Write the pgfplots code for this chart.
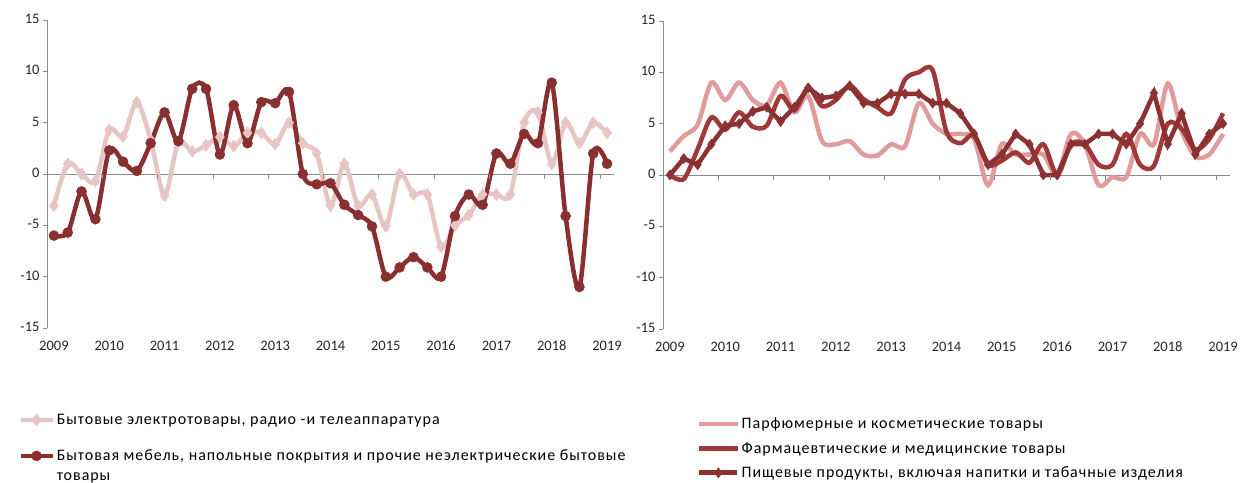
\documentclass[border=0pt]{standalone}
\usepackage{fontspec}
\setmainfont{Carlito}
\newfontfamily\legfont{Carlito}[LetterSpace=6]
\usepackage{pgfplots}
\pgfplotsset{compat=1.18}
\usepackage{pgfplotstable}
\definecolor{lpink}{HTML}{E8C5C5}
\definecolor{dred}{HTML}{8A2F2F}
\definecolor{ppink}{HTML}{E09C9C}
\definecolor{pharm}{HTML}{A03838}
\definecolor{food}{HTML}{8B3131}
\definecolor{axgray}{HTML}{8C8C8C}

\pgfplotstableread{
i a b
0 -3.1 -6.0
1 1.0 -5.7
2 0.0 -1.7
3 -0.7 -4.4
4 4.3 2.3
5 3.65 1.2
6 7.0 0.3
7 3.3 3.0
8 -2.1 6.0
9 3.1 3.2
10 2.2 8.3
11 2.8 8.3
12 3.6 1.9
13 2.7 6.7
14 4.0 3.0
15 4.0 7.0
16 2.9 6.9
17 5.0 8.0
18 3.0 0.0
19 2.0 -1.0
20 -3.1 -0.9
21 1.0 -3.0
22 -3.1 -4.0
23 -2.0 -5.1
24 -5.1 -10.0
25 0.0 -9.1
26 -2.0 -8.1
27 -2.0 -9.1
28 -7.1 -10.0
29 -5.0 -4.1
30 -4.0 -2.0
31 -2.0 -3.0
32 -2.0 2.0
33 -2.0 1.0
34 5.0 3.9
35 6.0 3.0
36 1.0 8.9
37 5.0 -4.1
38 3.0 -11.0
39 5.0 2.0
40 4.0 1.0
}\tabL

\pgfplotstableread{
i perf pharm food
0 2.3 0.0 0.0
1 3.8 -0.4 1.6
2 4.9 2.5 1.0
3 9.0 5.6 3.0
4 7.3 4.4 4.8
5 9.0 6.1 5.0
6 7.3 4.7 6.2
7 6.8 4.8 6.6
8 9.0 7.7 5.2
9 6.1 6.3 6.6
10 7.7 8.5 8.5
11 3.3 6.7 7.5
12 3.0 7.3 7.7
13 3.3 8.7 8.7
14 2.0 7.4 7.0
15 1.9 6.6 7.0
16 3.0 6.0 7.9
17 2.8 9.3 7.9
18 7.0 10.0 7.9
19 5.0 10.2 7.0
20 4.0 4.2 7.0
21 4.0 3.1 6.0
22 3.5 3.9 4.0
23 -1.0 1.0 1.0
24 3.0 1.4 2.0
25 2.0 2.2 4.0
26 2.0 1.2 3.0
27 2.0 3.0 0.0
28 0.0 0.0 0.0
29 4.0 3.0 3.0
30 3.0 3.0 3.0
31 -1.0 1.0 4.0
32 -0.2 1.0 4.0
33 -0.2 4.0 3.0
34 4.0 1.0 5.0
35 3.0 0.9 8.0
36 8.9 5.0 3.0
37 4.3 4.5 6.0
38 1.8 2.5 2.0
39 2.0 3.5 4.0
40 4.0 6.0 5.0
}\tabR

\pgfplotsset{
  panel/.style={
    scale only axis, width=567bp, height=308bp,
    xmin=-0.5, xmax=40.5, ymin=-15, ymax=15,
    axis y line*=left, axis x line*=bottom,
    x axis line style={draw=none},
    y axis line style={axgray, line width=0.9bp, -},
    xtick={0,4,...,40},
    xticklabels={2009,2010,2011,2012,2013,2014,2015,2016,2017,2018,2019},
    x tick style={draw=none},
    typeset ticklabels with strut,
    xticklabel style={yshift=-3.5bp},
    ytick={-15,-10,...,15},
    y tick style={axgray, line width=0.9bp},
    tick align=outside, major tick length=4bp,
    extra y ticks={0}, extra y tick labels={},
    extra y tick style={grid=major, major grid style={axgray, line width=0.9bp}, major tick length=0bp},
    tick label style={font=\fontsize{14.5bp}{17bp}\selectfont, text=black!85},
    /pgf/number format/assume math mode=true,
    clip=false,
    legend cell align=left,
    legend style={draw=none, fill=none, font=\legfont\fontsize{16bp}{20bp}\selectfont,
      inner sep=0pt},
  },
}

\begin{document}
\begin{tikzpicture}
\useasboundingbox (0,0) rectangle (1245bp,483bp);
\begin{axis}[panel, at={(47bp,155bp)}, anchor=south west,
  legend image code/.code={\draw[mark repeat=2,mark phase=2,#1] plot coordinates {(0bp,0bp) (16bp,0bp) (32bp,0bp)};},
  legend style={at={(axis description cs:-0.051,-0.272)}, anchor=north west, row sep=20bp}]
\addplot[lpink, line width=4.5bp, smooth, tension=0.5, mark=diamond*, mark size=6bp, mark options={fill=lpink, draw=lpink, line width=0.5bp}] table[x=i, y=a] {\tabL};
\addlegendentry{Бытовые электротовары, радио -и телеаппаратура}
\addplot[dred, line width=4.5bp, smooth, tension=0.5, mark=*, mark size=5bp, mark options={fill=dred, draw=dred, line width=0.5bp}] table[x=i, y=b] {\tabL};
\addlegendentry{\vtop{\hbox{Бытовая мебель, напольные покрытия и прочие неэлектрические бытовые}\hbox{товары}}}
\pgfplotsinvokeforeach{3.5,7.5,11.5,15.5,19.5,23.5,27.5,31.5,35.5,39.5}{
  \draw[axgray, line width=0.9bp] (axis cs:#1,0) -- ([yshift=-5bp]axis cs:#1,0);
}
\end{axis}

\begin{axis}[panel, at={(663bp,154bp)}, anchor=south west,
  legend image code/.code={\draw[mark repeat=2,mark phase=2,#1] plot coordinates {(0bp,0bp) (19bp,0bp) (38bp,0bp)};},
  legend style={at={(axis description cs:0.060,-0.282)}, anchor=north west, row sep=8bp}]
\addplot[ppink, line width=4.5bp, smooth, tension=0.5] table[x=i, y=perf] {\tabR};
\addlegendentry{Парфюмерные и косметические товары}
\addplot[pharm, line width=4.5bp, smooth, tension=0.5] table[x=i, y=pharm] {\tabR};
\addlegendentry{Фармацевтические и медицинские товары}
\addplot[food, line width=4.5bp, mark=diamond*, mark size=5bp, mark options={fill=food, draw=food, line width=0.5bp}] table[x=i, y=food] {\tabR};
\addlegendentry{Пищевые продукты, включая напитки и табачные изделия}
\pgfplotsinvokeforeach{3.5,7.5,11.5,15.5,19.5,23.5,27.5,31.5,35.5,39.5}{
  \draw[axgray, line width=0.9bp] (axis cs:#1,0) -- ([yshift=-5bp]axis cs:#1,0);
}
\end{axis}
\end{tikzpicture}
\end{document}
